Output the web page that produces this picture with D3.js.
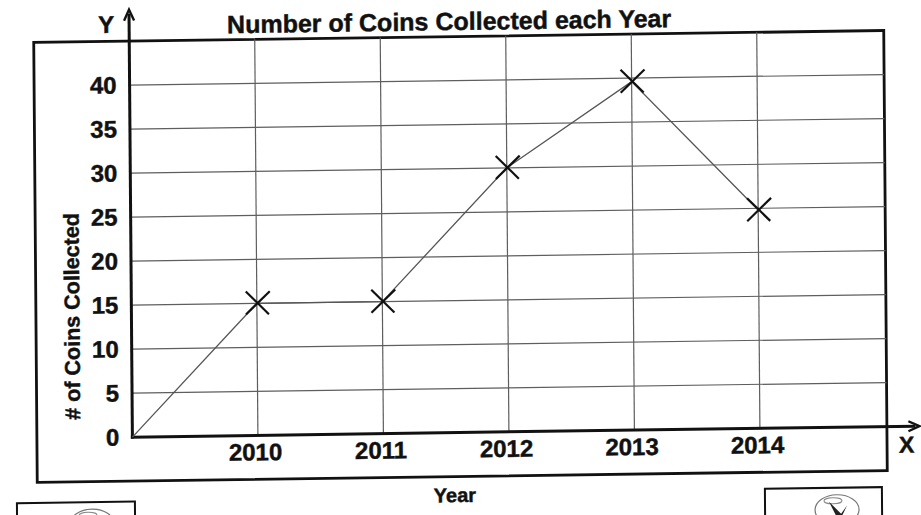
<!DOCTYPE html>
<html>
<head>
<meta charset="utf-8">
<script src="https://cdn.jsdelivr.net/npm/d3@7"></script>
<style>
  html, body { margin: 0; padding: 0; background: #fff; }
  svg { display: block; }
  text { font-family: "Liberation Sans", Arial, sans-serif; font-weight: bold; fill: #111; stroke: #111; stroke-width: 0.45px; }
</style>
</head>
<body>
<svg id="chart" width="921" height="515"></svg>
<script>
// ---- data ----
const years = [2010, 2011, 2012, 2013, 2014];
const coins = [15, 15, 30, 39.6, 24.8];
const lineStartYear = 2009;
const lineStartValue = 0;
const yTickValues = [0, 5, 10, 15, 20, 25, 30, 35, 40];
const xTickLabels = ["2010", "2011", "2012", "2013", "2014"];
const title = "Number of Coins Collected each Year";
const xTitle = "Year";
const yTitle = "# of Coins Collected";

// ---- layout ----
const svg = d3.select("#chart");
const g = svg.append("g")
  .attr("transform", "translate(460,257) matrix(1,-0.014,0.008,1,0,0) translate(-460,-257)");

const x = d3.scaleLinear().domain([2009, 2015]).range([131, 884]);
const y = d3.scaleLinear().domain([0, 45]).range([432.5, 36.5]);

const boxL = 35.5, boxR = 885.5, boxT = y(45), boxB = 476.5;

// outer box
g.append("rect")
  .attr("x", boxL).attr("y", boxT)
  .attr("width", boxR - boxL).attr("height", boxB - boxT)
  .attr("fill", "none").attr("stroke", "#111").attr("stroke-width", 2.8);

// horizontal gridlines
g.append("g").selectAll("line")
  .data(yTickValues.filter(v => v > 0))
  .join("line")
  .attr("x1", x(2009)).attr("x2", boxR)
  .attr("y1", d => y(d)).attr("y2", d => y(d))
  .attr("stroke", "#5e5e5e").attr("stroke-width", 1.2);

// vertical gridlines
g.append("g").selectAll("line")
  .data(years)
  .join("line")
  .attr("x1", d => x(d)).attr("x2", d => x(d))
  .attr("y1", boxT).attr("y2", y(0))
  .attr("stroke", "#5e5e5e").attr("stroke-width", 1.2);

// y tick labels
const yAxis = d3.axisLeft(y).tickValues(yTickValues).tickSize(0).tickPadding(13);
const yg = g.append("g").attr("transform", `translate(${x(2009)},0)`).call(yAxis);
yg.select(".domain").remove();
yg.selectAll("text")
  .attr("font-size", 24).attr("font-family", "Liberation Sans, Arial, sans-serif")
  .attr("font-weight", "bold").attr("fill", "#111");

// x tick labels
const xAxis = d3.axisBottom(x).tickValues(years).tickFormat((d, i) => xTickLabels[i]).tickSize(0).tickPadding(8);
const xg = g.append("g").attr("transform", `translate(-3,${y(0)})`).call(xAxis);
xg.select(".domain").remove();
xg.selectAll("text")
  .attr("font-size", 24).attr("font-family", "Liberation Sans, Arial, sans-serif")
  .attr("font-weight", "bold").attr("fill", "#111");

// axes with arrows
g.append("line")
  .attr("x1", x(2009)).attr("x2", x(2009))
  .attr("y1", y(0) + 1.5).attr("y2", 9)
  .attr("stroke", "#111").attr("stroke-width", 3);
g.append("path")
  .attr("d", `M${x(2009) - 5},${16} L${x(2009)},${5} L${x(2009) + 5},${16}`)
  .attr("fill", "none").attr("stroke", "#111").attr("stroke-width", 2.4);
g.append("line")
  .attr("x1", x(2009) - 1.5).attr("x2", 914)
  .attr("y1", y(0)).attr("y2", y(0))
  .attr("stroke", "#111").attr("stroke-width", 3);
g.append("path")
  .attr("d", `M${907},${y(0) - 5} L${918},${y(0)} L${907},${y(0) + 5}`)
  .attr("fill", "none").attr("stroke", "#111").attr("stroke-width", 2.4);

// data line
const pts = [[lineStartYear, lineStartValue]].concat(years.map((d, i) => [d, coins[i]]));
g.append("path")
  .datum(pts)
  .attr("d", d3.line().x(d => x(d[0])).y(d => y(d[1])))
  .attr("fill", "none").attr("stroke", "#555").attr("stroke-width", 1.3);

// X markers
const markers = g.append("g").selectAll("g")
  .data(years.map((d, i) => [d, coins[i]]))
  .join("g")
  .attr("transform", d => `translate(${x(d[0])},${y(d[1])})`);
markers.append("line")
  .attr("x1", -11).attr("y1", -12).attr("x2", 12).attr("y2", 11)
  .attr("stroke", "#111").attr("stroke-width", 2.2);
markers.append("line")
  .attr("x1", -11).attr("y1", 11).attr("x2", 13).attr("y2", -12)
  .attr("stroke", "#111").attr("stroke-width", 2.2);

// titles
g.append("text").attr("x", 451).attr("y", 30)
  .attr("text-anchor", "middle").attr("font-size", 25).text(title);
g.append("text").attr("x", 108).attr("y", 28)
  .attr("text-anchor", "middle").attr("font-size", 24).text("Y");
g.append("text").attr("x", 905).attr("y", 459)
  .attr("text-anchor", "middle").attr("font-size", 23).text("X");
g.append("text").attr("x", 453).attr("y", 502)
  .attr("text-anchor", "middle").attr("font-size", 20).text(xTitle);
g.append("text")
  .attr("transform", "translate(79,311) rotate(-90)")
  .attr("text-anchor", "middle").attr("font-size", 21.5).text(yTitle);

// bottom corner boxes with small logos
const corner = [[15, 133, 497], [763, 880, 493]];
corner.forEach(([l, r, t], i) => {
  g.append("rect").attr("x", l).attr("y", t).attr("width", r - l).attr("height", 40)
    .attr("fill", "none").attr("stroke", "#111").attr("stroke-width", 2);
  const cx = i === 0 ? 90 : 835, cy = t + 22;
  g.append("ellipse").attr("cx", cx).attr("cy", cy).attr("rx", 22).attr("ry", 15)
    .attr("fill", "none").attr("stroke", "#777").attr("stroke-width", 1.2);
  g.append("ellipse").attr("cx", cx - 4).attr("cy", cy - 9).attr("rx", 9).attr("ry", 3)
    .attr("fill", "none").attr("stroke", "#888").attr("stroke-width", 1);
  if (i === 1) {
    g.append("path").attr("d", `M${cx - 8},${cy - 8} L${cx + 4},${cy + 4} L${cx + 10},${cy - 4} L${cx + 2},${cy + 12} Z`)
      .attr("fill", "#222");
  }
});
</script>
</body>
</html>
